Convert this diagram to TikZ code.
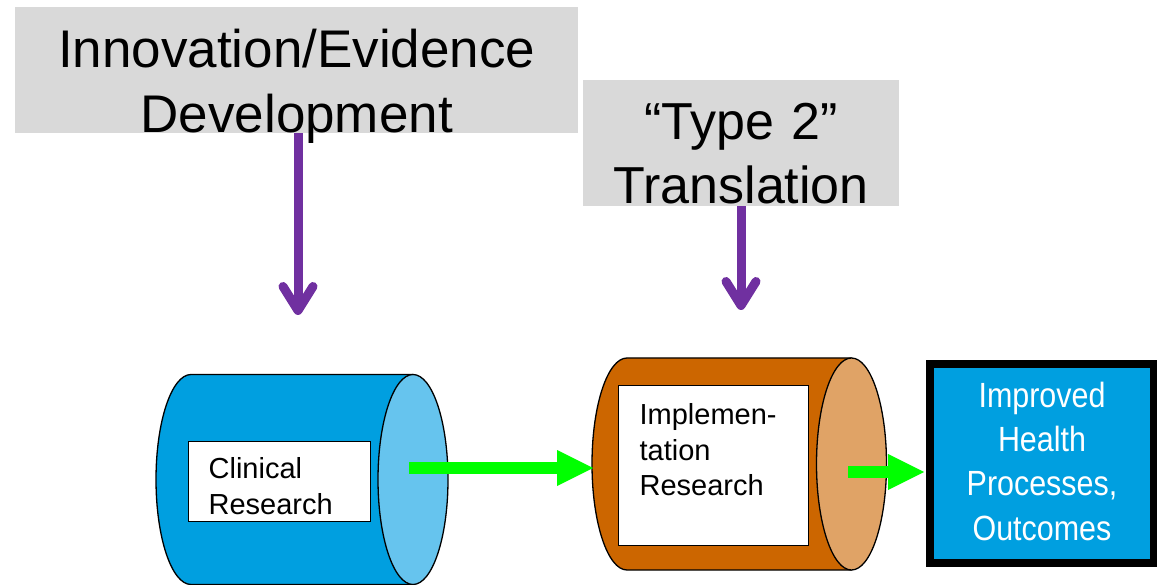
\documentclass[tikz,border=0pt]{standalone}
\usepackage{fontspec}
\setmainfont{Liberation Sans}
\newfontfamily\narrowsans[FakeStretch=0.87]{Liberation Sans}
\usepackage{tikz}
\usetikzlibrary{arrows.meta}
\definecolor{capsule}{HTML}{009FE0}
\definecolor{capsuleend}{HTML}{66C4EE}
\definecolor{barrel}{HTML}{CC6600}
\definecolor{barrelend}{HTML}{E0A366}
\definecolor{bannerbg}{HTML}{D9D9D9}
\definecolor{pointer}{HTML}{7030A0}
\definecolor{flowgreen}{HTML}{00FF00}
\tikzset{
  banner/.style={rectangle, fill=bannerbg, inner sep=0pt, align=center,
                 anchor=north west, text=black},
  tag/.style={rectangle, draw=black, line width=1.3pt, fill=white,
              inner xsep=20pt, inner ysep=0pt, align=left, anchor=north west,
              font=\fontsize{29}{35.5}\selectfont},
  goal/.style={rectangle, draw=black, line width=8pt, fill=capsule,
               inner sep=0pt, align=center, anchor=north west, text=white,
               font=\narrowsans\fontsize{35}{44.5}\selectfont},
  push/.style={-{Straight Barb[round, length=24pt, width=30pt]},
               line width=9pt, draw=pointer},
  flow/.style={-{Triangle[length=36pt, width=36pt, line width=0pt]},
               line width=12pt, draw=flowgreen},
}
\newcommand{\drum}[7]{% left x, right x, mid y, x radius, y radius, body, end
  \filldraw[fill=#6, line width=1.3pt, line join=round]
    (#1,{#3-#5}) -- (#2,{#3-#5}) -- (#2,{#3+#5}) -- (#1,{#3+#5})
    arc[start angle=90, end angle=270, x radius=#4, y radius=#5] -- cycle;
  \filldraw[fill=#7, line width=1.3pt] (#2,#3) ellipse[x radius=#4, y radius=#5];}

\begin{document}
\begin{tikzpicture}[x=1pt, y=-1pt]
  \useasboundingbox (0,0) rectangle (1157,585);

  \node[banner, text width=563pt, text height=60pt, text depth=66pt,
        font=\fontsize{53}{65}\selectfont] (devbox) at (15,7)
    {Innovation/Evidence\\Development};
  \node[banner, text width=316pt, text height=59pt, text depth=67pt,
        font=\fontsize{52}{64}\selectfont] (typebox) at (583,80)
    {“Type 2”\\Translation};

  \drum{191}{413}{479.5}{35}{105}{capsule}{capsuleend}
  \drum{627}{851.5}{464}{35}{106}{barrel}{barrelend}

  \node[tag, text width=142pt, text height=37pt, text depth=43pt] (clin)
    at (188,441) {Clinical\\Research};
  \node[tag, inner xsep=21pt, text width=148pt, text height=39pt,
        text depth=121pt] (impl) at (618,385)
    {Implemen-\\tation\\Research};
  \node[goal, text width=224pt, text height=43pt, text depth=156pt] (outbox)
    at (926,360) {Improved\\Health\\Processes,\\Outcomes};

  \coordinate (devtip) at (298,315);
  \coordinate (typetip) at (741,310);
  \coordinate (clinout) at (409,468);
  \coordinate (implin) at (593,468);
  \coordinate (implout) at (848,472);

  \draw[push] (devtip |- devbox.south) -- (devtip);
  \draw[push] (typetip |- typebox.south) -- (typetip);
  \draw[flow] (clinout) -- (implin);
  \draw[flow, shorten >=2pt] (implout) -- (implout -| outbox.west);
\end{tikzpicture}
\end{document}
